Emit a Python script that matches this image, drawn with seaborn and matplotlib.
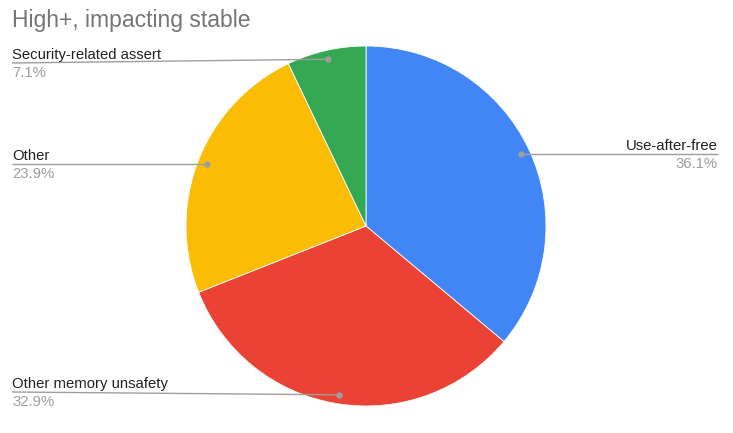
import numpy as np
import matplotlib
matplotlib.use("Agg")
import matplotlib.pyplot as plt
import seaborn as sns

# data
categories = ["Use-after-free", "Other memory unsafety", "Other", "Security-related assert"]
shares = [36.1, 32.9, 23.9, 7.1]
pct_labels = ["36.1%", "32.9%", "23.9%", "7.1%"]
colors = ["#4285F4", "#EA4335", "#FBBC04", "#34A853"]

sns.set_theme(style="white")
plt.rcParams["font.family"] = ["Liberation Sans", "DejaVu Sans"]

W, H = 733, 433
fig = plt.figure(figsize=(W / 100, H / 100), dpi=100)
ax = fig.add_axes([0, 0, 1, 1])

cx, cy, r = 366, H - 226, 180
wedges, _ = ax.pie(shares, colors=colors, startangle=90, counterclock=False,
                   center=(cx, cy), radius=r, frame=True,
                   wedgeprops=dict(edgecolor="white", linewidth=0.6))
ax.set_xlim(0, W)
ax.set_ylim(0, H)
ax.set_aspect("equal")
ax.axis("off")

fig.text(12 / W, 1 - 27 / H, "High+, impacting stable", fontsize=16.5,
         color="#757575", va="baseline", ha="left")

for w, name, pct in zip(wedges, categories, pct_labels):
    mid = np.deg2rad((w.theta1 + w.theta2) / 2)
    dx, dy = cx + 0.95 * r * np.cos(mid), cy + 0.95 * r * np.sin(mid)
    ly = min(max(dy, H - 392), H - 63)
    if np.cos(mid) >= 0:
        lx, ha = 718, "right"
    else:
        lx, ha = 12, "left"
    ax.plot([dx, lx], [dy, ly], color="#9e9e9e", lw=1, solid_capstyle="butt")
    ax.plot(dx, dy, "o", color="#9e9e9e", ms=3.5)
    ax.text(lx, ly + 4, name, ha=ha, va="baseline", fontsize=10.7, color="#222222")
    ax.text(lx, ly - 14, pct, ha=ha, va="baseline", fontsize=10.7, color="#9e9e9e")

fig.savefig("out.png", dpi=100, facecolor="white")
